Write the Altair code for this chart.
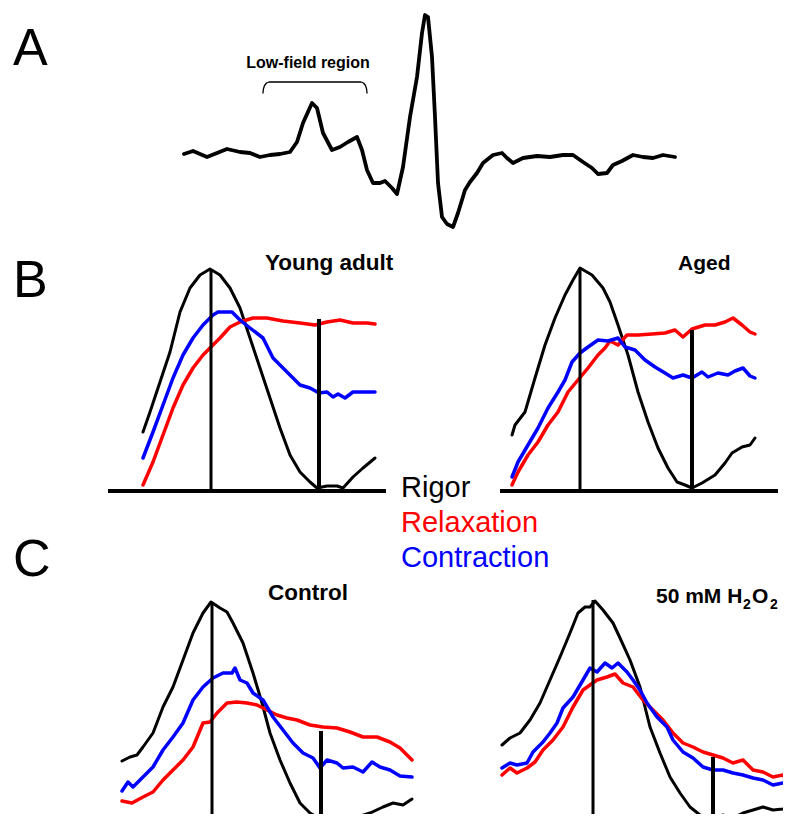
import altair as alt
import pandas as pd

FONT = "Liberation Sans"

# ---------------- Panel A: EPR spectrum (field offset, amplitude) ----------------
spec_field = [0, 9, 23, 33, 43, 56, 66, 76, 86, 96, 106, 113, 119, 128, 133, 139, 148, 156, 164, 173,
              178, 183, 189, 196, 201, 208, 213, 219, 226, 233, 238, 241, 244, 248, 251, 254, 258, 263,
              269, 274, 281, 286, 293, 299, 309, 318, 323, 329, 339, 353, 366, 379, 389, 399, 408, 414,
              423, 429, 438, 449, 459, 469, 479, 491]
spec_amp = [1, 4, -2, 2, 6, 3, 2, -2, 0, 1, 3, 13, 32, 52, 47, 22, 5, 8, 13, 18,
            5, -15, -28, -28, -26, -33, -39, -12, 38, 78, 122, 140, 138, 98, 38, -28, -62, -69,
            -72, -58, -35, -27, -18, -8, 0, 2, -3, -8, -3, -1, -2, 0, 0, -7, -13, -19,
            -18, -10, -6, 0, -2, -3, 0, -2]
bracket_field = [79, 79.4, 80.5, 82.5, 85, 177, 179.5, 181.5, 182.6, 183]
bracket_amp = [62, 66, 69.5, 72, 73, 73, 72, 69.5, 66, 62]

# ---------------- Panel B: Young adult (field offset, intensity) ----------------
young_rigor = [(0, 59), (7, 79), (17, 109), (27, 139), (37, 179), (47, 203), (57, 216), (67, 222),
               (77, 216), (87, 203), (97, 183), (107, 153), (117, 123), (127, 93), (137, 63), (147, 36),
               (157, 19), (167, 9), (174, 3), (184, 5), (194, 5), (200, 3), (210, 14), (220, 23), (232, 33)]
young_relax = [(0, 6), (10, 29), (20, 56), (30, 83), (40, 106), (50, 123), (60, 136), (67, 143),
               (77, 153), (87, 164), (97, 169), (110, 173), (124, 173), (140, 170), (157, 168),
               (172, 166), (184, 169), (197, 171), (210, 168), (224, 168), (232, 167)]
young_contr = [(0, 33), (10, 59), (20, 86), (30, 113), (40, 136), (50, 153), (60, 166), (70, 176),
               (75, 179), (89, 179), (97, 171), (107, 163), (120, 153), (130, 133), (144, 119),
               (157, 106), (167, 103), (176, 98), (184, 99), (190, 94), (195, 97), (202, 93),
               (210, 99), (224, 99), (232, 99)]
young_markers = [68, 176]
young_marker_tops = [222, 172]
young_axis = [-35, 243]

# ---------------- Panel B: Aged ----------------
aged_rigor = [(0, 56), (3, 66), (13, 79), (23, 113), (33, 146), (43, 173), (53, 196), (61, 211),
              (68, 223), (80, 216), (91, 203), (98, 189), (106, 166), (116, 136), (126, 99), (136, 69),
              (146, 43), (156, 23), (165, 9), (173, 6), (180, 3), (190, 8), (203, 16), (213, 28),
              (220, 38), (230, 44), (238, 46), (243, 53)]
aged_relax = [(0, 6), (6, 19), (16, 36), (26, 49), (36, 66), (46, 79), (56, 99), (66, 111), (76, 123),
              (86, 136), (93, 143), (98, 150), (106, 146), (115, 156), (126, 156), (140, 157),
              (153, 158), (163, 161), (171, 154), (180, 162), (193, 166), (203, 166), (213, 169),
              (221, 173), (230, 166), (238, 159), (243, 157)]
aged_contr = [(0, 14), (6, 29), (16, 46), (26, 63), (36, 83), (46, 99), (53, 111), (60, 129), (68, 138),
              (76, 144), (86, 151), (96, 150), (106, 153), (113, 144), (123, 141), (133, 131),
              (143, 124), (153, 118), (161, 113), (171, 116), (180, 113), (190, 119), (196, 114),
              (206, 118), (216, 116), (223, 120), (231, 123), (238, 115), (243, 113)]
aged_markers = [68, 180]
aged_marker_tops = [223, 161]
aged_axis = [-12, 266]

# ---------------- Panel C: Control ----------------
ctrl_rigor = [(0, 61), (8, 65), (15, 67), (21, 75), (31, 89), (41, 115), (51, 135), (61, 162), (71, 189),
              (81, 209), (89, 220), (98, 214), (105, 210), (111, 199), (121, 179), (131, 149),
              (140, 119), (148, 89), (158, 62), (168, 39), (178, 19), (188, 9), (198, 3), (208, 3),
              (221, 1), (235, 5), (248, 9), (261, 15), (271, 19), (281, 17), (290, 23)]
ctrl_relax = [(0, 21), (10, 19), (21, 25), (31, 30), (41, 42), (51, 52), (61, 62), (71, 75), (81, 99),
              (88, 100), (95, 109), (105, 119), (115, 120), (125, 119), (135, 117), (145, 112),
              (155, 107), (165, 104), (175, 102), (188, 97), (201, 95), (215, 94), (228, 90),
              (241, 85), (255, 85), (268, 80), (278, 74), (290, 62)]
ctrl_contr = [(0, 31), (6, 40), (11, 35), (21, 45), (31, 55), (41, 72), (51, 85), (61, 99), (71, 122),
              (81, 135), (91, 144), (101, 149), (110, 149), (113, 154), (118, 142), (125, 139),
              (131, 129), (141, 122), (151, 105), (161, 92), (171, 79), (181, 69), (191, 64),
              (198, 54), (205, 62), (215, 59), (221, 54), (231, 55), (241, 50), (250, 60), (258, 55),
              (268, 52), (278, 46), (290, 45)]
ctrl_markers = [90, 199]
ctrl_marker_tops = [220, 91]

# ---------------- Panel C: 50 mM H2O2 ----------------
h2o2_rigor = [(0, 77), (8, 84), (18, 89), (28, 102), (38, 119), (48, 142), (58, 165), (68, 189),
              (76, 209), (83, 215), (88, 215), (93, 221), (101, 212), (111, 199), (118, 184),
              (128, 162), (138, 135), (148, 95), (158, 69), (168, 45), (178, 29), (188, 15), (198, 7),
              (211, 3), (221, 7), (231, 4), (241, 9), (251, 12), (261, 15), (271, 12), (281, 13), (286, 15)]
h2o2_relax = [(0, 47), (8, 54), (15, 49), (25, 54), (33, 60), (41, 72), (51, 82), (61, 95), (71, 115),
              (81, 132), (88, 137), (95, 142), (105, 145), (113, 148), (121, 139), (131, 135),
              (141, 122), (151, 112), (161, 102), (171, 89), (181, 79), (191, 75), (201, 70),
              (211, 67), (221, 64), (231, 59), (241, 62), (251, 52), (261, 50), (271, 45), (281, 47),
              (286, 40)]
h2o2_contr = [(0, 54), (8, 59), (15, 57), (25, 59), (31, 70), (41, 80), (48, 89), (55, 99), (61, 114),
              (71, 125), (81, 142), (88, 154), (95, 150), (103, 159), (110, 154), (116, 159),
              (125, 150), (131, 142), (138, 132), (145, 119), (155, 105), (165, 95), (171, 82),
              (181, 70), (191, 64), (201, 55), (211, 52), (221, 52), (231, 49), (241, 47), (251, 44),
              (261, 42), (271, 37), (281, 39), (286, 40)]
h2o2_markers = [91, 211]
h2o2_marker_tops = [222, 65]

legend_labels = ["Rigor", "Relaxation", "Contraction"]
legend_colors = ["#000000", "#ff0000", "#0000ff"]

# ---------------- layout (pixel origin of each panel inside the chart) ----------------
W, H = 775, 806


def scales(ox, oy):
    sx = alt.Scale(domain=[0, 100], range=[ox - 8, ox + 92], nice=False, zero=False)
    sy = alt.Scale(domain=[0, 100], range=[oy - 8, oy - 108], nice=False, zero=False)
    return sx, sy


def curve(fields, values, color, width, sx, sy):
    df = pd.DataFrame({"field": fields, "signal": values, "i": list(range(len(fields)))})
    return alt.Chart(df).mark_line(
        color=color, strokeWidth=width, strokeJoin="round", strokeCap="round"
    ).encode(
        x=alt.X("field:Q", scale=sx, axis=None),
        y=alt.Y("signal:Q", scale=sy, axis=None),
        order="i:Q",
    )


def pairs(p, color, width, sx, sy):
    return curve([a for a, _ in p], [b for _, b in p], color, width, sx, sy)


def marker(pos, top, width, sx, sy):
    df = pd.DataFrame({"field": [pos], "top": [top], "base": [0]})
    return alt.Chart(df).mark_rule(color="black", strokeWidth=width).encode(
        x=alt.X("field:Q", scale=sx, axis=None),
        y=alt.Y("top:Q", scale=sy, axis=None),
        y2="base:Q",
    )


def baseline(span, sx, sy):
    df = pd.DataFrame({"x0": [span[0]], "x1": [span[1]], "lvl": [0]})
    return alt.Chart(df).mark_rule(color="black", strokeWidth=4).encode(
        x=alt.X("x0:Q", scale=sx, axis=None),
        x2="x1:Q",
        y=alt.Y("lvl:Q", scale=sy, axis=None),
    )


def label(text, x, y, size, color="black", bold=False, align="left"):
    df = pd.DataFrame({"label": [text]})
    return alt.Chart(df).mark_text(
        align=align, baseline="alphabetic", fontSize=size, font=FONT,
        fontWeight="bold" if bold else "normal", color=color,
    ).encode(x=alt.value(x), y=alt.value(y), text="label:N")


def trio_panel(rigor, relax, contr, markers, tops, ox, oy, axis_span=None):
    sx, sy = scales(ox, oy)
    layers = []
    if axis_span is not None:
        layers.append(baseline(axis_span, sx, sy))
    layers += [
        pairs(rigor, legend_colors[0], 3.0, sx, sy),
        pairs(relax, legend_colors[1], 3.5, sx, sy),
        pairs(contr, legend_colors[2], 3.5, sx, sy),
        marker(markers[0], tops[0], 3.0, sx, sy),
        marker(markers[1], tops[1], 4.0, sx, sy),
    ]
    return alt.layer(*layers)


# Panel A
sxA, syA = scales(184, 155)
panelA = alt.layer(
    curve(spec_field, spec_amp, "black", 3.8, sxA, syA),
    curve(bracket_field, bracket_amp, "black", 1.3, sxA, syA),
)

panel_young = trio_panel(young_rigor, young_relax, young_contr, young_markers, young_marker_tops,
                         143, 491, young_axis)
panel_aged = trio_panel(aged_rigor, aged_relax, aged_contr, aged_markers, aged_marker_tops,
                        512, 491, aged_axis)
panel_ctrl = trio_panel(ctrl_rigor, ctrl_relax, ctrl_contr, ctrl_markers, ctrl_marker_tops, 122, 822)
panel_h2o2 = trio_panel(h2o2_rigor, h2o2_relax, h2o2_contr, h2o2_markers, h2o2_marker_tops, 502, 822)

texts = [
    label("A", 5, 57, 52),
    label("B", 5, 289, 52),
    label("C", 5, 568, 52),
    label("Low-field region", 300, 60, 16, bold=True, align="center"),
    label("Young adult", 257, 262, 22.5, bold=True),
    label("Aged", 670, 262, 21, bold=True),
    label("Control", 260, 592, 22.5, bold=True),
    label("50 mM H", 648, 595, 21, bold=True),
    label("2", 735, 601, 14, bold=True),
    label("O", 744, 595, 21, bold=True),
    label("2", 762, 601, 14, bold=True),
    label(legend_labels[0], 393, 489, 29, color=legend_colors[0]),
    label(legend_labels[1], 393, 524, 29, color=legend_colors[1]),
    label(legend_labels[2], 393, 559, 29, color=legend_colors[2]),
]

chart = alt.layer(
    panelA, panel_young, panel_aged, panel_ctrl, panel_h2o2, *texts
).resolve_scale(
    x="independent", y="independent"
).properties(
    width=W, height=H, padding=0, autosize=alt.AutoSizeParams(type="none"),
    background="white",
).configure_view(stroke=None)

chart.save("out.html", embed_options={"renderer": "svg", "actions": False})
